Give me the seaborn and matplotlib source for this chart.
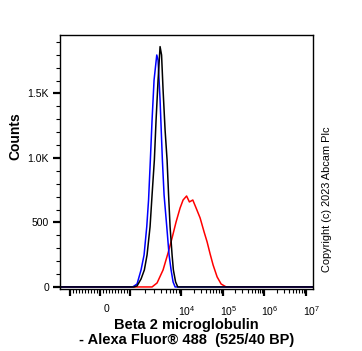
import numpy as np
import pandas as pd
import matplotlib
matplotlib.use("Agg")
import matplotlib.pyplot as plt
import matplotlib.transforms as mtransforms
import seaborn as sns

# ---- data (fluorescence intensity vs. counts) ----
blue_x = [1000, 1145, 1372, 1643, 1882, 2125, 2305, 2500, 2700, 2955, 3339, 3540,
          3875, 4300, 4642, 5243, 5818, 6367, 6970, 7630]
blue_y = [0, 2, 23, 132, 248, 467, 674, 984, 1294, 1604, 1798, 1759,
          1449, 984, 713, 467, 248, 132, 39, 0]

black_x = [1198, 1372, 1643, 1907, 2154, 2467, 2700, 2995, 3235, 3540, 3875, 4145,
           4437, 4857, 5315, 5688, 6085, 6660, 7063, 7800, 8613]
black_y = [0, 8, 62, 132, 248, 467, 713, 984, 1294, 1604, 1863, 1798,
           1527, 1217, 984, 713, 467, 248, 132, 39, 0]

red_x = [2700, 3384, 4437, 5560, 6660, 7980, 9560, 11170, 13570, 15850, 19140,
         22980, 28700, 35830, 42320, 50000, 59020, 73700, 92000, 121400]
red_y = [0, 31, 132, 264, 380, 504, 612, 674, 705, 659, 674,
         612, 535, 426, 349, 256, 170, 78, 23, 0]

x_min, x_max = -1570, 1.5e7
y_min, y_max = -12, 1953

x_major = [-1000, 0, 1000, 1e4, 1e5, 1e6, 1e7]
x_major_labels = ["", "0", "", "$10^{4}$", "$10^{5}$", "$10^{6}$", "$10^{7}$"]
y_major = [0, 500, 1000, 1500]
y_major_labels = ["0", "500", "1.0K", "1.5K"]

series_colors = {"isotype": "#0000ff", "unstained": "#000000", "stained": "#ff0000"}

frames = []
for name, xs, ys in [("stained", red_x, red_y), ("isotype", blue_x, blue_y),
                     ("unstained", black_x, black_y)]:
    xs = [x_min] + list(xs) + [x_max]
    ys = [0] + list(ys) + [0]
    frames.append(pd.DataFrame({"intensity": xs, "counts": ys, "series": name}))
df = pd.concat(frames, ignore_index=True)


# ---- biexponential-like axis transform ----
def fwd(v):
    v = np.asarray(v, dtype=float)
    a = np.abs(v)
    s = np.sign(v)
    with np.errstate(all="ignore"):
        aa = np.maximum(a, 1e-12)
        lo = a * 30.0 / 1000.0
        mid = 30.0 + 51.0 * np.log10(aa / 1000.0)
        hi = 81.0 + 41.5 * np.log10(aa / 1e4)
    out = np.where(a <= 1000, lo, np.where(a <= 1e4, mid, hi))
    return s * out


def inv(f):
    f = np.asarray(f, dtype=float)
    a = np.abs(f)
    s = np.sign(f)
    with np.errstate(all="ignore"):
        ac = np.minimum(a, 400)
        lo = a * 1000.0 / 30.0
        mid = 1000.0 * 10 ** ((ac - 30.0) / 51.0)
        hi = 1e4 * 10 ** ((ac - 81.0) / 41.5)
    out = np.where(a <= 30, lo, np.where(a <= 81, mid, hi))
    return s * out


sns.set_theme(style="ticks")
plt.rcParams["font.family"] = ["Liberation Sans", "DejaVu Sans"]
plt.rcParams["mathtext.fontset"] = "custom"
plt.rcParams["mathtext.rm"] = "Liberation Sans"
plt.rcParams["mathtext.it"] = "Liberation Sans"
plt.rcParams["mathtext.default"] = "regular"
plt.rcParams["text.color"] = "black"
plt.rcParams["axes.labelcolor"] = "black"

fig = plt.figure(figsize=(3.62, 3.51), dpi=100)
ax = fig.add_axes([60 / 362, 1 - 288.5 / 351, (313 - 60) / 362, (288.5 - 35) / 351])

sns.lineplot(data=df, x="intensity", y="counts", hue="series",
             hue_order=["stained", "isotype", "unstained"],
             palette=series_colors, estimator=None, sort=False,
             linewidth=1.1, legend=False, ax=ax)

ax.set_xscale("function", functions=(fwd, inv))
ax.set_xlim(x_min, x_max)
ax.set_ylim(y_min, y_max)

ax.set_xticks(x_major)
ax.set_xticklabels(x_major_labels)
minors = (list(np.arange(-900, 0, 100)) + list(np.arange(100, 1000, 100)) +
          [m * 10 ** e for e in range(3, 7) for m in range(2, 10)])
ax.set_xticks(minors, minor=True)
ax.set_yticks(y_major)
ax.set_yticklabels(y_major_labels)
ax.set_yticks([v for v in range(100, 1901, 100) if v not in y_major], minor=True)

for sp in ax.spines.values():
    sp.set_linewidth(1.0)
    sp.set_color("black")
ax.tick_params(axis="both", which="major", direction="out", length=5, width=1.6,
               colors="black", labelsize=7.5, labelcolor="black")
ax.tick_params(axis="both", which="minor", direction="out", length=3, width=0.8,
               colors="black")
ax.tick_params(axis="x", which="major", pad=6)
ax.tick_params(axis="y", which="major", pad=3)

offset = mtransforms.ScaledTranslation(6 / 100, 0, fig.dpi_scale_trans)
for lbl in ax.get_xticklabels():
    lbl.set_transform(lbl.get_transform() + offset)

ax.set_xlabel("Beta 2 microglobulin\n- Alexa Fluor\u00ae 488  (525/40 BP)",
              fontsize=10.5, fontweight="bold", linespacing=1.12, labelpad=0,
              color="black")
ax.set_ylabel("Counts", fontsize=10, fontweight="bold", color="black")
ax.yaxis.set_label_coords(-0.15, 0.60)

fig.text(0.903, 0.433, "Copyright (c) 2023 Abcam Plc", rotation=90,
         fontsize=7.9, va="center", ha="center", color="black")

fig.savefig("out.png", dpi=100)
